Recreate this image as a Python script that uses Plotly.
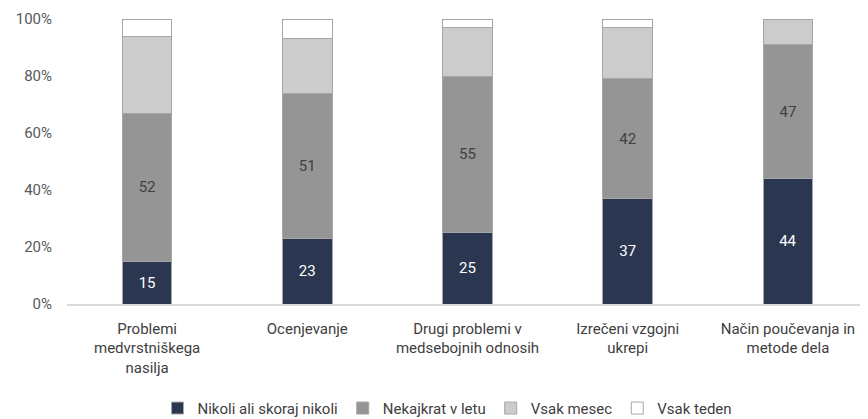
import plotly.graph_objects as go

categories = [
    "Problemi<br>medvrstniškega<br>nasilja",
    "Ocenjevanje",
    "Drugi problemi v<br>medsebojnih odnosih",
    "Izrečeni vzgojni<br>ukrepi",
    "Način poučevanja in<br>metode dela",
]
nikoli = [15, 23, 25, 37, 44]
nekajkrat = [52, 51, 55, 42, 47]
vsak_mesec = [27, 19, 17, 18, 9]
vsak_teden = [6, 7, 3, 3, 0]

series = [
    ("Nikoli ali skoraj nikoli", nikoli, "#2b3750", "white", True),
    ("Nekajkrat v letu", nekajkrat, "#959595", "#404040", True),
    ("Vsak mesec", vsak_mesec, "#cccccc", "#404040", False),
    ("Vsak teden", vsak_teden, "#ffffff", "#404040", False),
]

font_family = "Roboto, sans-serif"

fig = go.Figure()
for name, vals, color, txt_color, show_text in series:
    fig.add_trace(go.Bar(
        x=categories,
        y=vals,
        name=name,
        marker=dict(color=color, line=dict(color="#a6a6a6", width=1)),
        text=vals if show_text else None,
        textposition="inside" if show_text else "none",
        insidetextanchor="middle",
        textangle=0,
        textfont=dict(color=txt_color, size=15, family=font_family),
    ))

# page body has an 8px default margin, so the figure is sized to fit the window
fig.update_layout(
    barmode="stack",
    bargap=0.69,
    width=860,
    height=411,
    margin=dict(l=59, r=0, t=11, b=115),
    plot_bgcolor="white",
    paper_bgcolor="white",
    font=dict(family=font_family, size=15, color="#595959"),
    showlegend=True,
    legend=dict(
        orientation="h",
        x=0.475,
        xanchor="center",
        yref="container",
        y=0.026,
        yanchor="middle",
        font=dict(size=15, color="#404040"),
        traceorder="normal",
        itemwidth=30,
    ),
    uniformtext=dict(mode="show", minsize=10),
)
fig.update_xaxes(
    showline=True,
    linecolor="#d9d9d9",
    linewidth=1.5,
    ticks="",
    automargin=False,
    ticklabelstandoff=10,
    tickfont=dict(size=15, color="#404040"),
)
fig.update_yaxes(
    range=[0, 100],
    dtick=20,
    ticksuffix="%",
    showgrid=False,
    zeroline=False,
    automargin=False,
    ticklabelstandoff=14,
    tickfont=dict(size=15, color="#595959"),
)

fig.write_html("out.html")
